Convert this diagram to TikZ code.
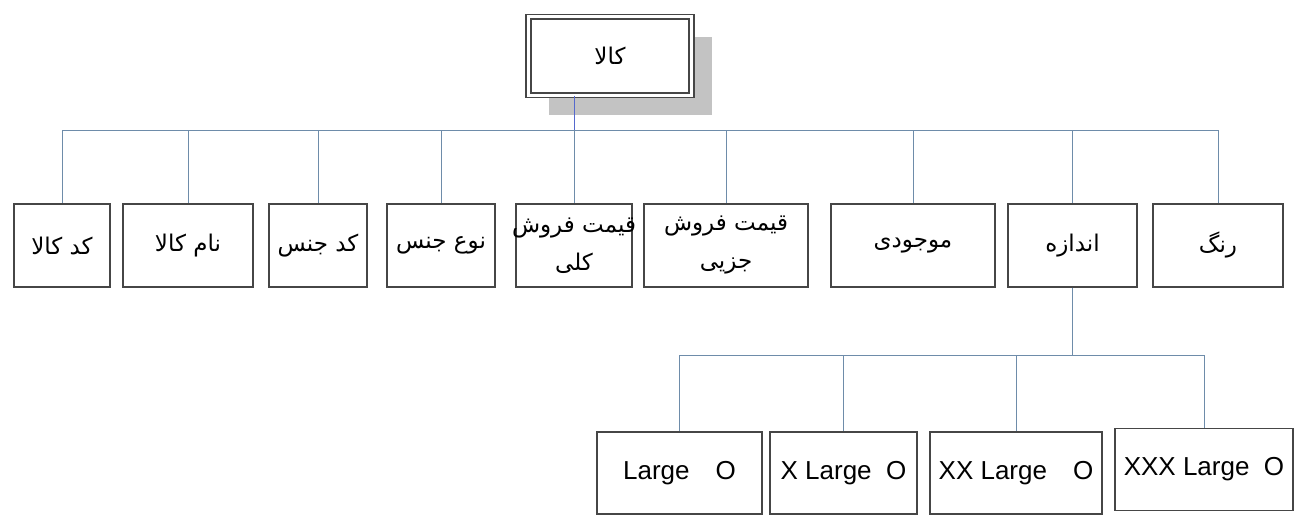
\documentclass[tikz,border=0pt]{standalone}
\usepackage{fontspec}
\setmainfont{Liberation Sans}
\newfontfamily\farsi[Script=Arabic]{DejaVu Sans}
\TeXXeTstate=1
\usepackage{xcolor}
\usetikzlibrary{positioning,shadows}

\definecolor{linkgray}{RGB}{110,140,170}
\definecolor{linkblue}{RGB}{85,105,205}
\definecolor{boxgray}{RGB}{70,70,70}
\definecolor{shadowgray}{RGB}{195,195,195}

\tikzset{
  box/.style={draw=boxgray, line width=1.4pt, fill=white, inner sep=0pt,
    minimum height=83pt, align=center, font=\farsi\fontsize{23}{38}\selectfont},
  sizebox/.style={box, minimum height=82pt, font=\fontsize{26}{30}\selectfont},
  link/.style={draw=linkgray, line width=1pt}
}

\begin{document}
\begin{tikzpicture}[x=1pt,y=-1pt]
    \useasboundingbox (0,0) rectangle (1303,519);

    % Root
    \node[box, double, double distance=3pt, line width=1.8pt,
          minimum width=163pt, minimum height=78pt,
          drop shadow={shadow xshift=20pt, shadow yshift=-20pt, fill=shadowgray, opacity=1}]
        (kala) at (610,56) {\beginR کالا\endR};

    % Fields of the item
    \node[box, minimum width=96pt]  (kod)      at (62,245.5)   {\beginR کد کالا\endR};
    \node[box, minimum width=130pt] (nam)      at (188,245.5)  {\beginR نام کالا\endR};
    \node[box, minimum width=98pt]  (kodjens)  at (318,245.5)  {\beginR کد جنس\endR};
    \node[box, minimum width=108pt] (noejens)  at (441,245.5)  {\beginR نوع جنس\endR};
    \node[box, minimum width=116pt, inner xsep=-5pt] (kolli) at (574,245.5)
        {\beginR قیمت فروش\endR\\\beginR کلی\endR};
    \node[box, minimum width=164pt] (jozi)     at (726,245.5)  {\beginR قیمت فروش\endR\\\beginR جزیی\endR};
    \node[box, minimum width=164pt] (mojudi)   at (913,245.5)  {\beginR موجودی\endR};
    \node[box, minimum width=129pt] (andaze)   at (1072.5,245.5) {\beginR اندازه\endR};
    \node[box, minimum width=130pt] (rang)     at (1218,245.5) {\beginR رنگ\endR};

    % Sizes
    \node[sizebox, minimum width=165pt] (large)   at (679.5,473)  {Large\quad O};
    \node[sizebox, minimum width=147pt] (xlarge)  at (843.5,473)  {X Large\ \ O};
    \node[sizebox, minimum width=172pt] (xxlarge) at (1016,473)   {XX Large\quad O};
    \node[sizebox, minimum width=178pt] (xxxlarge) at (1204,469.5) {XXX Large\ \ O};

    % Connectors, first level
    \coordinate (bar) at (0,130);
    \draw[link, draw=linkblue] (kolli.north |- kala.south) -- (kolli.north |- bar);
    \draw[link] (kod.north |- bar) -- (rang.north |- bar);
    \foreach \n in {kod,nam,kodjens,noejens,kolli,jozi,mojudi,andaze,rang}
        \draw[link] (\n.north |- bar) -- (\n.north);

    % Connectors, sizes
    \coordinate (sizebar) at (0,355);
    \draw[link] (andaze.south) -- (andaze.south |- sizebar);
    \draw[link] (large.north |- sizebar) -- (xxxlarge.north |- sizebar);
    \foreach \n in {large,xlarge,xxlarge,xxxlarge}
        \draw[link] (\n.north |- sizebar) -- (\n.north);
\end{tikzpicture}
\end{document}
